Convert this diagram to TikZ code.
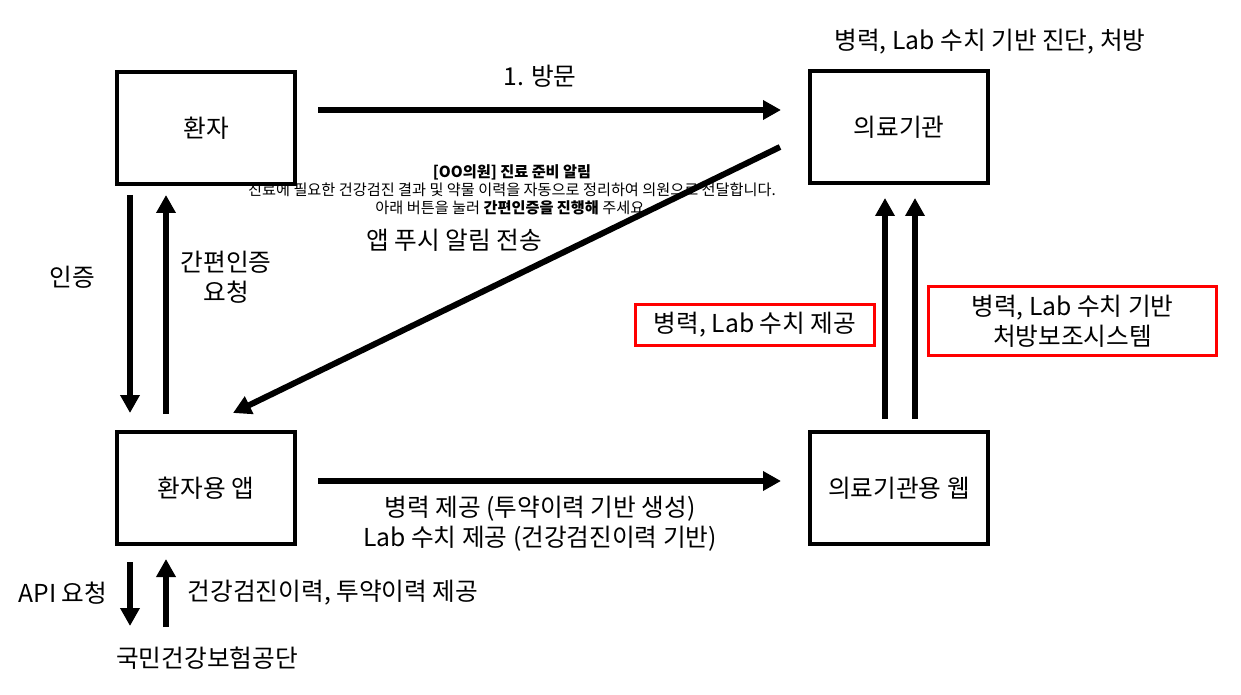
\documentclass[tikz,border=0pt]{standalone}
\usepackage{fontspec}
\setmainfont{Noto Sans CJK KR}
\newfontfamily\smallkr{Noto Sans CJK KR}
\usetikzlibrary{arrows.meta}
\begin{document}
\begin{tikzpicture}[x=0.75pt,y=-0.75pt,
  big/.style={font=\fontsize{18.5}{22.5}\selectfont},
  box/.style={draw, line width=3pt, minimum width=134pt, minimum height=84pt, big, inner sep=0pt},
  lbl/.style={big, align=center, inner sep=0pt},
  redbox/.style={draw=red, line width=2.25pt, big, align=center, inner sep=0pt},
  arr/.style={line width=4.5pt, -{Triangle[length=13.5pt,width=14pt]}},
  note/.style={font=\smallkr\fontsize{11.4}{13.5}\selectfont, align=center, inner sep=0pt}]
\useasboundingbox (0,0) rectangle (1241,695);
\fill[white] (0,0) rectangle (1241,695);

% boxes
\node[box] (pat) at (206,128) {환자};
\node[box] (hosp) at (899,127) {의료기관};
\node[box] (app) at (206,488) {환자용 앱};
\node[box] (web) at (899,488) {의료기관용 웹};

% labels
\node[lbl] (diag) at (990,42) {병력, Lab 수치 기반 진단, 처방};
\node[lbl] (visit) at (540,76) {1. 방문};
\node[lbl] (push) at (454,240) {앱 푸시 알림 전송};
\node[lbl] (auth) at (72,277) {인증};
\node[lbl] (req) at (226,277) {간편인증\\요청};
\node[lbl] (give) at (540,524) {병력 제공 (투약이력 기반 생성)\\Lab 수치 제공 (건강검진이력 기반)};
\node[lbl] (api) at (63,593) {API 요청};
\node[lbl] (hist) at (333,593) {건강검진이력, 투약이력 제공};
\node[lbl] (nhis) at (207,658) {국민건강보험공단};
\node[redbox, minimum width=179pt, minimum height=31pt] (rb1) at (755,325) {병력, Lab 수치 제공};
\node[redbox, minimum width=216pt, minimum height=52pt] (rb2) at (1072.5,321) {병력, Lab 수치 기반\\처방보조시스템};

\node[note] (msg) at (512,190) {{\bfseries [OO의원] 진료 준비 알림}\\
진료에 필요한 건강검진 결과 및 약물 이력을 자동으로 정리하여 의원으로 전달합니다.\\
아래 버튼을 눌러 {\bfseries 간편인증을 진행해} 주세요.};

% arrow end points
\coordinate (v1s) at (318,110); \coordinate (v1e) at (781,110);
\coordinate (d1s) at (780,147); \coordinate (d1e) at (233,413);
\coordinate (l1s) at (130,195); \coordinate (l1e) at (130,413);
\coordinate (l2s) at (166,414); \coordinate (l2e) at (166,195);
\coordinate (h2s) at (318,481); \coordinate (h2e) at (781,481);
\coordinate (r1s) at (885,419); \coordinate (r1e) at (885,198);
\coordinate (r2s) at (915,419); \coordinate (r2e) at (915,198);
\coordinate (b1s) at (130,562); \coordinate (b1e) at (130,626);
\coordinate (b2s) at (166,627); \coordinate (b2e) at (166,559);

\draw[arr] (v1s) -- (v1e);
\draw[arr] (d1s) -- (d1e);
\draw[arr] (l1s) -- (l1e);
\draw[arr] (l2s) -- (l2e);
\draw[arr] (h2s) -- (h2e);
\draw[arr] (r1s) -- (r1e);
\draw[arr] (r2s) -- (r2e);
\draw[arr] (b1s) -- (b1e);
\draw[arr] (b2s) -- (b2e);
\end{tikzpicture}
\end{document}
